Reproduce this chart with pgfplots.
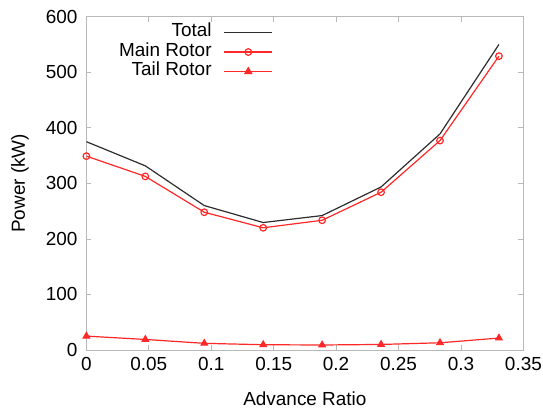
\documentclass[border=0pt]{standalone}
\usepackage{pgfplots}
\pgfplotsset{compat=1.18}
\usepackage{fontspec}
\setmainfont{Liberation Sans}
\definecolor{myred}{RGB}{255,40,40}
\definecolor{mydark}{RGB}{45,45,45}
\newcommand{\bigf}{\fontsize{19}{22}\selectfont}
\begin{document}
\begin{tikzpicture}
\begin{axis}[
  name=main,
  scale only axis, width=437bp, height=333.3bp,
  xmin=0, xmax=0.35, ymin=0, ymax=600,
  xtick={0,0.05,0.1,0.15,0.2,0.25,0.3,0.35},
  ytick={0,100,200,300,400,500,600},
  /pgf/number format/assume math mode=true,
  xticklabel style={/pgf/number format/fixed, /pgf/number format/precision=2, font=\bigf, yshift=-4bp},
  yticklabel style={font=\bigf, xshift=-5.5bp},
  tick align=inside, tick pos=both,
  major tick length=5bp,
  axis line style={gray!55, line width=0.8bp},
  tick style={gray!55, line width=0.8bp},
  xlabel={Advance Ratio}, ylabel={Power (kW)},
  xlabel style={font=\bigf, inner sep=0pt, at={(axis description cs:0.5,-0.145)}, anchor=center},
  ylabel style={font=\bigf, inner sep=0pt, at={(axis description cs:-0.152,0.5)}, anchor=center},
  legend style={draw=none, fill=none, at={(rel axis cs:0.427,0.9817)}, anchor=north east,
    font=\bigf, row sep=0pt, inner sep=0pt, outer sep=0pt,
    nodes={inner sep=0pt, text height=14bp, text depth=5.5bp},
    /tikz/every odd column/.append style={column sep=12bp}},
  legend cell align=right,
  legend plot pos=right,
]
\addplot[mydark, line width=1.2bp,
  legend image code/.code={\draw[mydark, line width=1.4bp] (0bp,0bp) -- (48bp,0bp);}] coordinates {
(0,375) (0.0472,331.5) (0.0944,260) (0.1416,229.5) (0.1888,242) (0.236,293.5) (0.2832,389) (0.3304,550)
};
\addlegendentry{Total}
\addplot[myred, line width=1.2bp, mark=o, mark size=3.3bp, mark options={line width=1.2bp},
  legend image code/.code={\draw[myred, line width=1.2bp] (0bp,0bp) -- (48bp,0bp);
    \draw[myred, line width=1.2bp] (24bp,0bp) circle[radius=3.3bp];}] coordinates {
(0,349) (0.0472,312.5) (0.0944,248) (0.1416,220) (0.1888,233.5) (0.236,284) (0.2832,377) (0.3304,529)
};
\addlegendentry{Main Rotor}
\addplot[myred, line width=1.2bp, mark=triangle*, mark size=3.8bp, mark options={line width=1bp},
  legend image code/.code={\draw[myred, line width=1.2bp] (0bp,0bp) -- (48bp,0bp);
    \fill[myred] (24bp,3.8bp) -- (20.7bp,-1.9bp) -- (27.3bp,-1.9bp) -- cycle;}] coordinates {
(0,25) (0.0472,19) (0.0944,12) (0.1416,9.5) (0.1888,9) (0.236,10) (0.2832,13) (0.3304,21.5)
};
\addlegendentry{Tail Rotor}
\end{axis}
\pgfresetboundingbox
\path (main.south west) ++(-86.4bp,-58bp) rectangle ++(543bp,408bp);
\end{tikzpicture}
\end{document}
